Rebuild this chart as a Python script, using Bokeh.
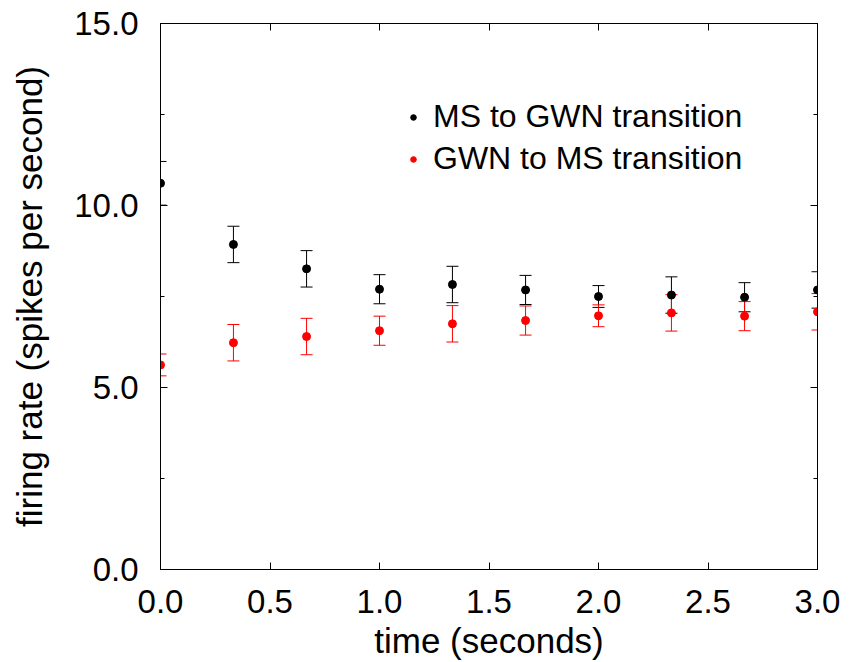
from bokeh.plotting import figure
from bokeh.models import (ColumnDataSource, Whisker, TeeHead, Range1d, FixedTicker,
                          PrintfTickFormatter, LinearAxis, Legend, LegendItem)
from bokeh.embed import file_html
from bokeh.resources import INLINE

# ---- data ----
time_s = [0.0, 0.333, 0.667, 1.0, 1.333, 1.667, 2.0, 2.333, 2.667, 3.0]
ms_to_gwn = [10.61, 8.93, 8.26, 7.70, 7.83, 7.68, 7.50, 7.54, 7.48, 7.68]
ms_to_gwn_err = [0.60, 0.50, 0.50, 0.40, 0.50, 0.40, 0.30, 0.50, 0.40, 0.50]
gwn_to_ms = [5.62, 6.23, 6.40, 6.56, 6.75, 6.84, 6.97, 7.05, 6.96, 7.08]
gwn_to_ms_err = [0.30, 0.50, 0.50, 0.40, 0.50, 0.40, 0.30, 0.50, 0.40, 0.50]

x_ticks = [0.0, 0.5, 1.0, 1.5, 2.0, 2.5, 3.0]
y_ticks = [0.0, 5.0, 10.0, 15.0]
y_minor = [2.5, 7.5, 12.5]

series_names = ["MS to GWN transition", "GWN to MS transition"]
series_colors = ["#000000", "#ff0000"]

FONT = "Liberation Sans"

p = figure(frame_width=657, frame_height=546,
           min_border_left=160, min_border_right=34,
           min_border_top=23, min_border_bottom=93,
           x_range=Range1d(0, 3), y_range=Range1d(0, 15),
           output_backend="svg", toolbar_location=None,
           background_fill_color="white", border_fill_color="white")

p.xgrid.visible = False
p.ygrid.visible = False
p.outline_line_color = "black"
p.outline_line_width = 1

def style_axis(ax, ticker, show_labels=True):
    ax.ticker = ticker
    ax.formatter = PrintfTickFormatter(format="%.1f")
    ax.axis_line_color = "black"
    ax.major_tick_line_color = "black"
    ax.minor_tick_line_color = "black"
    ax.major_tick_in = 7
    ax.major_tick_out = 0
    ax.minor_tick_in = 4
    ax.minor_tick_out = 0
    if show_labels:
        ax.major_label_text_font = FONT
        ax.major_label_text_font_size = "33px"
        ax.major_label_text_color = "black"
        ax.axis_label_text_font = FONT
        ax.axis_label_text_font_style = "normal"
        ax.axis_label_text_font_size = "35px"
        ax.axis_label_text_color = "black"
    else:
        ax.major_label_overrides = {t: "" for t in ticker.ticks}
        ax.major_label_text_font_size = "8px"
        ax.major_label_standoff = 0

xt = FixedTicker(ticks=x_ticks, minor_ticks=[])
yt = FixedTicker(ticks=y_ticks, minor_ticks=y_minor)

xa = p.xaxis[0]
style_axis(xa, xt)
xa.axis_label = "time (seconds)"
xa.major_label_standoff = 20
xa.axis_label_standoff = 5

ya = p.yaxis[0]
style_axis(ya, yt)
ya.axis_label = "firing rate (spikes per second)"
ya.major_label_standoff = 22
ya.axis_label_standoff = 22

top = LinearAxis()
style_axis(top, FixedTicker(ticks=x_ticks, minor_ticks=[]), show_labels=False)
p.add_layout(top, "above")
right = LinearAxis()
style_axis(right, FixedTicker(ticks=y_ticks, minor_ticks=y_minor), show_labels=False)
p.add_layout(right, "right")

items = []
for vals, errs, name, col in [(ms_to_gwn, ms_to_gwn_err, series_names[0], series_colors[0]),
                               (gwn_to_ms, gwn_to_ms_err, series_names[1], series_colors[1])]:
    src = ColumnDataSource(dict(x=time_s, y=vals,
                                lower=[v - e for v, e in zip(vals, errs)],
                                upper=[v + e for v, e in zip(vals, errs)]))
    w = Whisker(source=src, base="x", lower="lower", upper="upper", dimension="height",
                line_color=col, line_width=1,
                lower_head=TeeHead(size=12, line_color=col, line_width=1),
                upper_head=TeeHead(size=12, line_color=col, line_width=1))
    p.add_layout(w)
    r = p.scatter("x", "y", source=src, size=8, color=col, line_color=col)
    items.append(LegendItem(label=name, renderers=[r]))

legend = Legend(items=items, location=(246, 392), orientation="vertical",
                border_line_alpha=0, background_fill_alpha=0,
                label_text_font=FONT, label_text_font_size="32px", label_text_color="black",
                glyph_width=14, glyph_height=36, label_height=36, label_standoff=13,
                spacing=5, padding=0, margin=0)
p.add_layout(legend, "center")

open("out.html", "w").write(file_html(p, INLINE))
